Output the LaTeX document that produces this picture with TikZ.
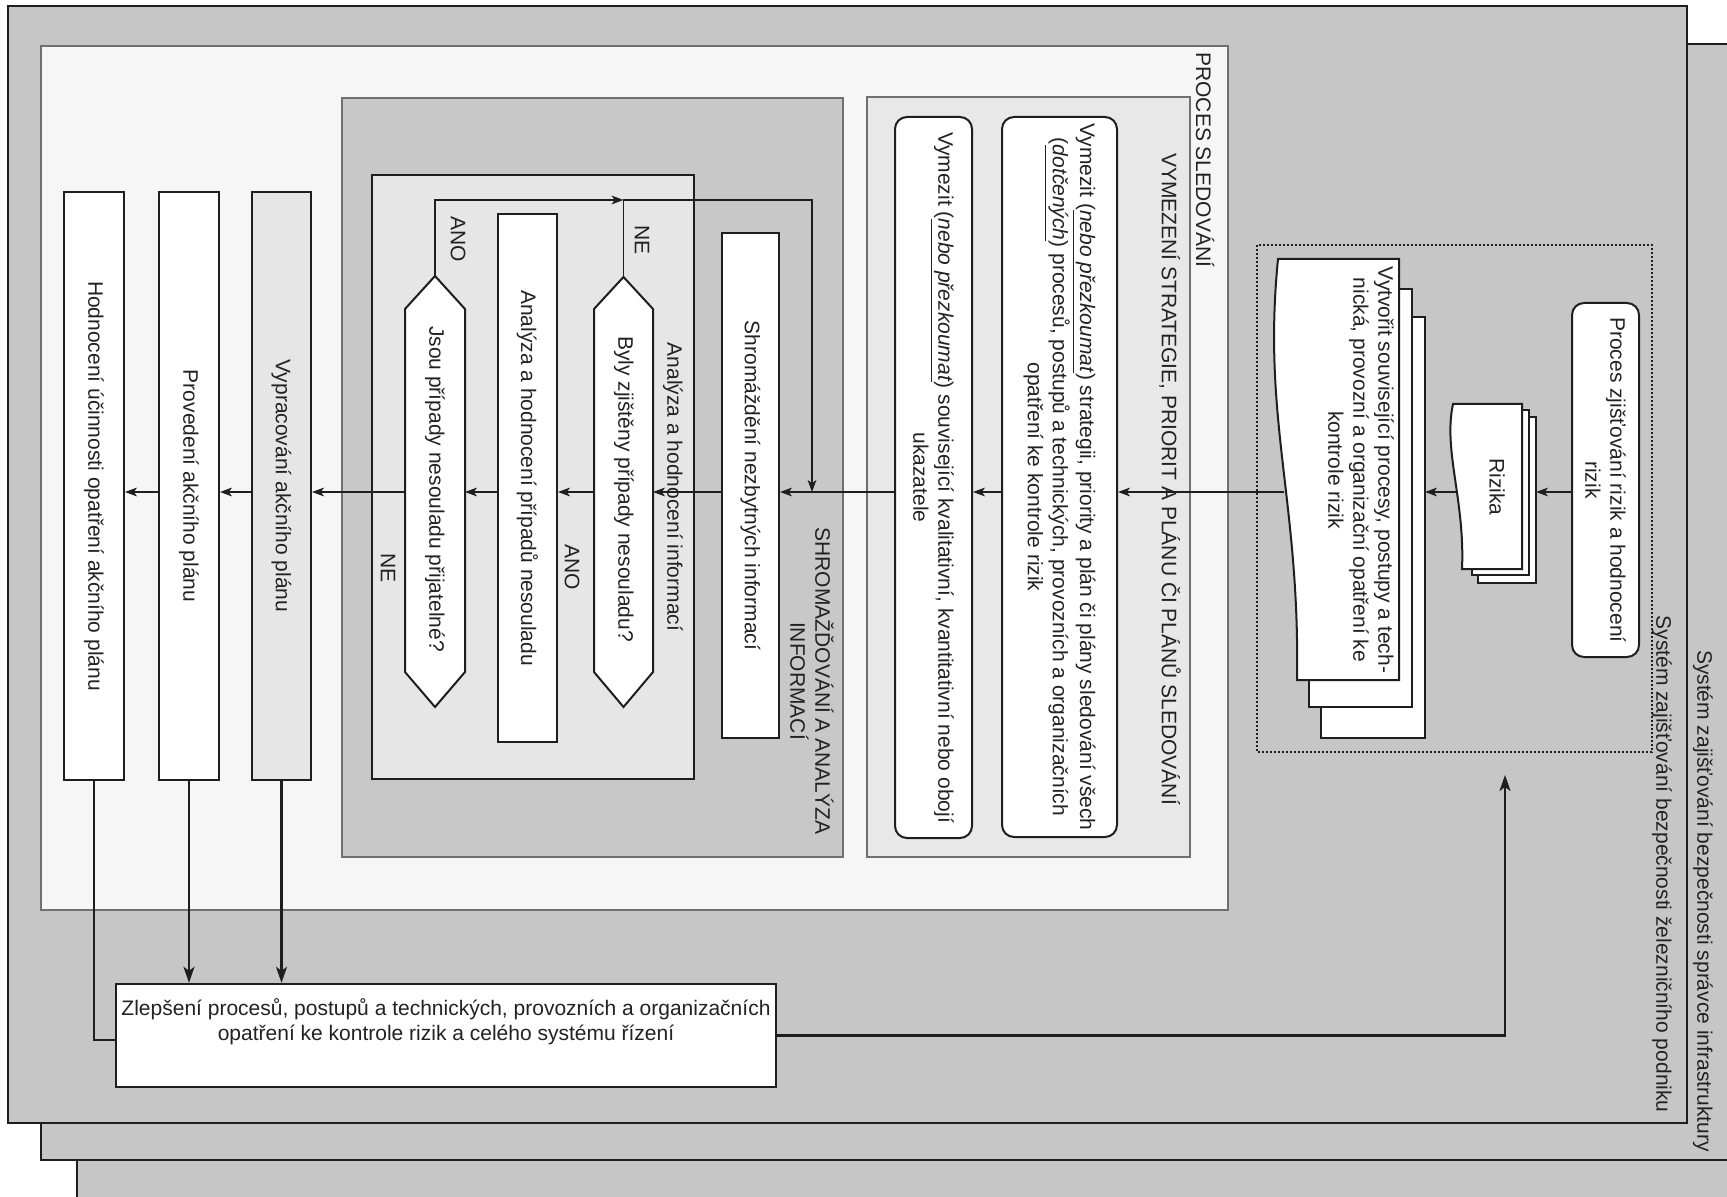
\documentclass[tikz,border=0pt]{standalone}
\usepackage{fontspec}
\setmainfont{Liberation Sans}
\usetikzlibrary{arrows.meta}
\definecolor{frgray}{HTML}{C6C6C6}
\definecolor{progray}{HTML}{F6F6F6}
\definecolor{vymgray}{HTML}{E8E8E8}
\definecolor{shrgray}{HTML}{C8C8C8}
\definecolor{anagray}{HTML}{E6E6E6}
\definecolor{bordgray}{HTML}{707070}
\definecolor{txtc}{HTML}{222222}
\definecolor{lnc}{HTML}{1E1E1E}
\newcommand{\zvyr}[1]{(\underline{\textit{#1}})}
\begin{document}
\begin{tikzpicture}[x=0.5pt,y=-0.5pt,
  every node/.style={font=\fontsize{10.5}{12.5}\selectfont, text=txtc},
  frame/.style={draw=lnc, line width=1.3pt, fill=frgray},
  cont/.style={draw=bordgray, line width=0.8pt},
  vbox/.style={draw=lnc, line width=1pt, fill=white, rotate=-90, inner sep=2pt, align=center},
  rbox/.style={vbox, rounded corners=6pt},
  vtxt/.style={rotate=-90, inner sep=0pt, align=center},
  flow/.style={draw=lnc, line width=0.6pt},
  arr/.style={flow, -{Stealth[length=6pt,width=4.4pt,inset=1.6pt]}},
  tline/.style={draw=lnc, line width=1.1pt},
  tarr/.style={tline, -{Stealth[length=8pt,width=5.5pt,inset=2pt]}},
  doc/.style={draw=lnc, line width=1pt, fill=white},
  hexs/.style={draw=lnc, line width=1pt, fill=white}]
\useasboundingbox (0,0) rectangle (1727,1197);
\clip (0,0) rectangle (1727,1197);
\fill[white] (0,0) rectangle (1727,1197);
% stacked frames
\draw[frame] (77,80) rectangle (1800,1300);
\draw[frame] (41,44) rectangle (1800,1160);
\draw[frame] (8,6) rectangle (1687,1123);
% containers
\draw[cont, fill=progray] (41,46) rectangle (1228,910);
\draw[cont, fill=vymgray] (867,97) rectangle (1190,857);
\draw[cont, fill=shrgray] (342,98) rectangle (843,857);
\draw[draw=lnc, line width=1pt, fill=anagray] (372,175) rectangle (694,779);
\draw[draw=lnc, line width=0.8pt, dash pattern=on 1pt off 1pt] (1257,245) rectangle (1652,752);
% risk identification
\node[rbox, minimum width=177pt, minimum height=33.5pt] (proces) at (1605.5,480) {Proces zjišťování rizik a hodnocení\\rizik};
\draw[doc] (1478,417) rectangle (1536,583);
\draw[doc] (1472,410) rectangle (1529,575);
\draw[doc] (1522,404) -- (1453,404) .. controls (1443,450) and (1465,500) .. (1462,569) -- (1522,569) -- cycle;
\node[vtxt] (riz) at (1497,487) {Rizika};
\draw[doc] (1321,317) rectangle (1425,738);
\draw[doc] (1309,289) rectangle (1412,707);
\draw[doc] (1399,259) -- (1278,259) .. controls (1262,420) and (1300,500) .. (1297,680) -- (1399,680) -- cycle;
\node[vtxt] (vyt) at (1361,470) {Vytvořit související procesy, postupy a tech-\\nická, provozní a organizační opatření ke\\kontrole rizik};
% definition of strategy
\node[rbox, minimum width=360pt, minimum height=57.5pt] (b1) at (1059.5,477) {Vymezit \zvyr{nebo přezkoumat} strategii, priority a plán či plány sledování všech\\\zvyr{dotčených} procesů, postupů a technických, provozních a organizačních\\opatření ke kontrole rizik};
\node[rbox, minimum width=360.5pt, minimum height=38.5pt] (b2) at (933.5,477.5) {Vymezit \zvyr{nebo přezkoumat} související kvalitativní, kvantitativní nebo obojí\\ukazatele};
% gathering and analysis
\node[vbox, minimum width=252.5pt, minimum height=28.5pt] (shrom) at (750.5,485.5) {Shromáždění nezbytných informací};
\draw[hexs] (594,309) -- (623.5,277) -- (653,309) -- (653,672) -- (623.5,707) -- (594,672) -- cycle;
\node[vtxt] (h1t) at (624,489) {Byly zjištěny případy nesouladu?};
\node[vbox, minimum width=264pt, minimum height=29.5pt] (anal) at (527.5,478) {Analýza a hodnocení případů nesouladu};
\draw[hexs] (405,309) -- (435,276) -- (465,309) -- (465,672) -- (435,707) -- (405,672) -- cycle;
\node[vtxt] (h2t) at (435,489) {Jsou případy nesouladu přijatelné?};
% action plan
\node[vbox, fill=anagray, minimum width=294pt, minimum height=29.5pt] (vyp) at (281.5,486) {Vypracování akčního plánu};
\node[vbox, minimum width=294pt, minimum height=30pt] (prov) at (189,486) {Provedení akčního plánu};
\node[vbox, minimum width=294pt, minimum height=30pt] (hod) at (94,486) {Hodnocení účinnosti opatření akčního plánu};
% improvement
\node[draw=lnc, line width=1.2pt, fill=white, minimum width=330pt, minimum height=51.5pt, inner sep=0pt] (zlep) at (446,1035.5) {};
\node[align=center, inner sep=0pt] (zlept) at (446,1021.5) {Zlepšení procesů, postupů a technických, provozních a organizačních\\opatření ke kontrole rizik a celého systému řízení};
% labels
\node[vtxt, anchor=west] (lproc) at (1205,52) {PROCES SLEDOVÁNÍ};
\node[vtxt] (lvym) at (1170,479) {VYMEZENÍ STRATEGIE, PRIORIT A PLÁNU ČI PLÁNŮ SLEDOVÁNÍ};
\node[vtxt] (lshr) at (812,681) {SHROMAŽĎOVÁNÍ A ANALÝZA\\INFORMACÍ};
\node[vtxt] (lana) at (673,487) {Analýza a hodnocení informací};
\node[vtxt] (lne1) at (642,240) {NE};
\node[vtxt] (lano1) at (458,239) {ANO};
\node[vtxt] (lano2) at (572,567) {ANO};
\node[vtxt] (lne2) at (388,568) {NE};
\node[vtxt, anchor=east] (lzel) at (1662,1113) {Systém zajišťování bezpečnosti železničního podniku};
\node[vtxt, anchor=east] (linf) at (1703,1152) {Systém zajišťování bezpečnosti správce infrastruktury};
% connector coordinates
\coordinate (fy) at (0,492);
\coordinate (rizIn) at (1536,492);
\coordinate (rizOut) at (1457,492);
\coordinate (vytIn) at (1425,492);
\coordinate (vytOut) at (1284,492);
\coordinate (h1R) at (653,492);
\coordinate (h1L) at (594,492);
\coordinate (h2R) at (465,492);
\coordinate (h2L) at (405,492);
\coordinate (h1T) at (623.5,277);
\coordinate (h2T) at (435,276);
\coordinate (joinNE) at (623.5,200);
\coordinate (loopEnd) at (812,492);
\coordinate (hodJ) at (116,1040);
\coordinate (fbTip) at (1505,775);
% connectors
\draw[arr] (proces.south |- fy) -- (rizIn);
\draw[arr] (rizOut) -- (vytIn);
\draw[arr] (vytOut) -- (b1.north |- fy);
\draw[arr] (b1.south |- fy) -- (b2.north |- fy);
\draw[arr] (b2.south |- fy) -- (shrom.north |- fy);
\draw[arr] (shrom.south |- fy) -- (h1R);
\draw[arr] (h1L) -- (anal.north |- fy);
\draw[arr] (anal.south |- fy) -- (h2R);
\draw[arr] (h2L) -- (vyp.north |- fy);
\draw[arr] (vyp.south |- fy) -- (prov.north |- fy);
\draw[arr] (prov.south |- fy) -- (hod.north |- fy);
\draw[arr] (h2T) |- (joinNE);
\draw[arr] (h1T) -- (joinNE) -| (loopEnd);
\draw[tline] (hod.east) |- (hodJ);
\draw[tarr] (prov.east) -- (prov.east |- zlep.north);
\draw[tarr] (vyp.east) -- (vyp.east |- zlep.north);
\draw[tarr] (zlep.east) -| (fbTip);
\end{tikzpicture}
\end{document}
